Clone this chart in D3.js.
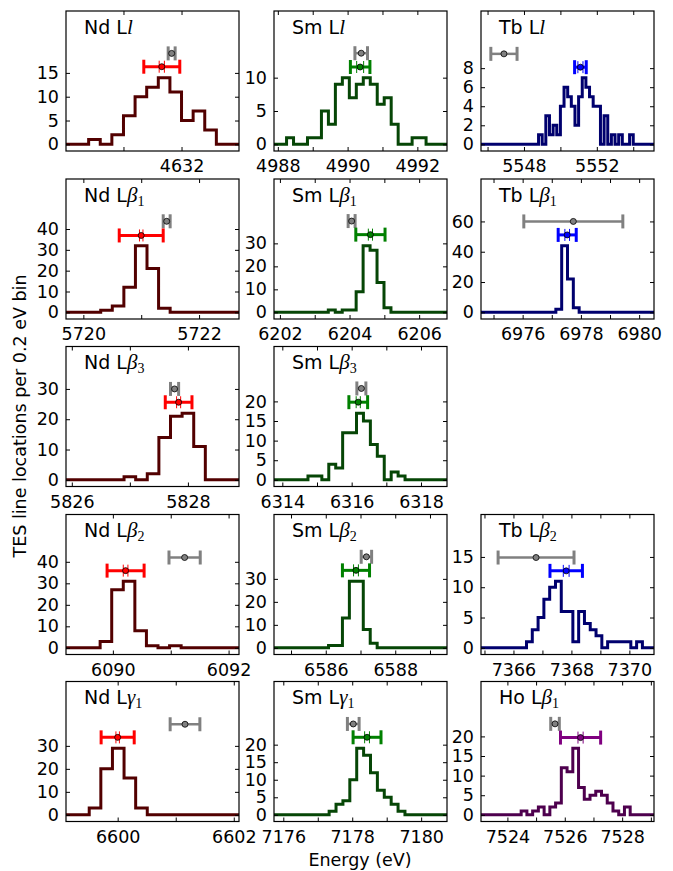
<!DOCTYPE html>
<html><head><meta charset="utf-8">
<script src="https://cdnjs.cloudflare.com/ajax/libs/d3/7.8.5/d3.min.js"></script>
<style>body{margin:0;background:#fff}</style>
</head><body>
<script>
// ---------------- data ----------------
const elements = ["Nd","Sm","Tb","Nd","Sm","Tb","Nd","Sm","Nd","Sm","Tb","Nd","Sm","Ho"];
const lineSym  = ["l","l","l","β","β","β","β","β","β","β","β","γ","γ","β"];
const lineSub  = ["","","","1","1","1","3","3","2","2","2","1","1","1"];

const xLo = [4630.01, 4987.89, 5545.64, 5719.70, 6201.83, 6974.57, 5825.90, 6313.76, 6089.19, 6584.51, 7364.88, 6599.11, 7175.73, 7523.08];
const xHi = [4632.99, 4992.85, 5555.14, 5722.69, 6206.80, 6980.51, 5828.88, 6318.75, 6092.18, 6589.49, 7370.85, 6602.09, 7180.75, 7529.11];
const xTickStep  = [1,1,2,1,1,1,1,1,1,1,1,1,1,1];
const xLabelStep = [2,2,4,2,2,2,2,2,2,2,2,2,2,2];

const binWidth = 0.2;
const binStart = [4630.4, 4988.25, 5548.8, 5720.3, 6203.39, 6977.14, 5826.9, 6314.74, 6089.78, 6586.08, 7366.45, 6599.51, 7177.33, 7524.48];

const countsNdLl  = [1,0,2,6,10,12,14,11,5,7,3];
const countsSmLl  = [1,0,0,1,1,5,3,9,10,7,9,10,9,6,7,3,0,0,1,1];
const countsTbLl  = [1,0,3,1,2,1,4,6,5,4,2,5,7,6,5,4,4,0,3,0,1,0,1,0,0,1];
const countsNdLb1 = [1,3,12,32,21,2];
const countsSmLb1 = [1,0,1,1,9,29,27,13,2];
const countsTbLb1 = [2,44,22,3];
const countsNdLb3 = [1,0,2,14,21,22,11];
const countsSmLb3 = [1,1,0,4,3,12,12,17,15,9,6,0,2,1];
const countsNdLb2 = [3,27,31,8,1,0,1];
const countsSmLb2 = [1,1,13,29,29,8,2];
const countsTbLb2 = [1,3,5,8,10,11,6,6,1,6,4,3,2,0,1,1,1,1,0,1];
const countsNdLg1 = [3,20,29,16,3];
const countsSmLg1 = [1,3,4,10,19,17,12,7,5,3,1];
const countsHoLb1 = [1,0,1,2,0,2,3,12,11,17,7,4,5,6,5,3,1,0,2,0];

const yTicks = [
  [0,5,10,15],[0,5,10],[0,2,4,6,8],
  [0,10,20,30,40],[0,10,20,30],[0,20,40,60],
  [0,10,20,30],[0,5,10,15,20],
  [0,10,20,30,40],[0,10,20,30],[0,5,10,15],
  [0,10,20,30],[0,5,10,15,20],[0,5,10,15,20]
];

// measured (TES) line positions: center, total error, statistical error, plotted height
const fitCenter  = [4631.66, 4990.36, 5551.10, 5721.00, 6204.60, 6977.53, 5827.84, 6316.19, 6090.22, 6586.87, 7367.82, 6600.00, 7178.43, 7526.55];
const fitTotErr  = [0.31, 0.28, 0.32, 0.38, 0.42, 0.31, 0.23, 0.27, 0.32, 0.39, 0.56, 0.285, 0.405, 0.70];
const fitStatErr = [0.045, 0.10, 0.14, 0.03, 0.06, 0.08, 0.035, 0.06, 0.04, 0.07, 0.10, 0.03, 0.07, 0.09];
const fitY       = [16.3, 11.6, 8.1, 36.9, 33.8, 51.1, 25.6, 19.8, 35.9, 33.7, 12.7, 33.7, 22.1, 19.7];
// reference (literature) line positions
const refCenter = [4631.83, 4990.39, 5546.90, 5721.44, 6204.06, 6977.74, 5827.77, 6316.28, 6091.24, 6587.17, 7366.78, 6601.16, 7178.03, 7525.66];
const refErr    = [0.06, 0.18, 0.72, 0.06, 0.10, 1.70, 0.07, 0.13, 0.27, 0.15, 1.31, 0.256, 0.17, 0.15];
const refY      = [19.1, 13.67, 9.5, 43.7, 39.7, 60, 30, 23.3, 42, 39.6, 14.9, 39.4, 25.9, 23.2];

// ---------------- styling / layout ----------------
const histColor = {Nd:"#520000", Sm:"#064606", Tb:"#00006e", Ho:"#4e004e"};
const barColor  = {Nd:"#ff0000", Sm:"#008000", Tb:"#0000ff", Ho:"#800080"};
const refColor = "#808080";

const W = 673, H = 871;
const colX = [66, 274, 481];
const rowY = [11, 179, 346.5, 514.5, 681.5];
const PW = 173, PH = 140;
const gridPos = [[0,0],[0,1],[0,2],[1,0],[1,1],[1,2],[2,0],[2,1],[3,0],[3,1],[3,2],[4,0],[4,1],[4,2]];
const FS = 17.5;

const allCounts = [countsNdLl,countsSmLl,countsTbLl,countsNdLb1,countsSmLb1,countsTbLb1,
  countsNdLb3,countsSmLb3,countsNdLb2,countsSmLb2,countsTbLb2,countsNdLg1,countsSmLg1,countsHoLb1];

const svg = d3.select("body").append("svg")
  .attr("width", W).attr("height", H)
  .style("font-family", "'DejaVu Sans', sans-serif");

allCounts.forEach((counts, i) => {
  const [r, c] = gridPos[i];
  const g = svg.append("g").attr("transform", `translate(${colX[c]},${rowY[r]})`);
  const ymax = d3.max(counts);
  const x = d3.scaleLinear().domain([xLo[i], xHi[i]]).range([0, PW]);
  const y = d3.scaleLinear().domain([-0.1 * ymax, 2 * ymax]).range([PH, 0]);
  const el = elements[i];

  const clipId = "clip" + i;
  g.append("clipPath").attr("id", clipId).append("rect").attr("width", PW).attr("height", PH);

  // histogram step line
  const pts = [[xLo[i], 0], [binStart[i], 0]];
  counts.forEach((v, k) => {
    const a = binStart[i] + k * binWidth;
    pts.push([a, v], [a + binWidth, v]);
  });
  const end = binStart[i] + counts.length * binWidth;
  pts.push([end, 0], [xHi[i], 0]);
  g.append("path")
    .attr("clip-path", `url(#${clipId})`)
    .attr("d", d3.line().x(d => x(d[0])).y(d => y(d[1]))(pts))
    .attr("fill", "none").attr("stroke", histColor[el])
    .attr("stroke-width", 3).attr("stroke-linejoin", "miter");

  // error bars
  function errbar(cx, err, yy, color, lw, capw, caph) {
    const eb = g.append("g");
    eb.append("line").attr("x1", x(cx - err)).attr("x2", x(cx + err))
      .attr("y1", y(yy)).attr("y2", y(yy)).attr("stroke", color).attr("stroke-width", lw);
    [cx - err, cx + err].forEach(v => {
      eb.append("line").attr("x1", x(v)).attr("x2", x(v))
        .attr("y1", y(yy) - caph).attr("y2", y(yy) + caph)
        .attr("stroke", color).attr("stroke-width", capw);
    });
    return eb;
  }
  errbar(refCenter[i], refErr[i], refY[i], refColor, 2.5, 3, 7);
  g.append("circle").attr("cx", x(refCenter[i])).attr("cy", y(refY[i])).attr("r", 3)
    .attr("fill", refColor).attr("stroke", "#000").attr("stroke-width", 0.8);

  const bc = barColor[el];
  errbar(fitCenter[i], fitTotErr[i], fitY[i], bc, 3, 3, 7);
  errbar(fitCenter[i], fitStatErr[i], fitY[i], bc, 1, 1, 6);
  g.append("circle").attr("cx", x(fitCenter[i])).attr("cy", y(fitY[i])).attr("r", 3)
    .attr("fill", bc).attr("stroke", "#000").attr("stroke-width", 0.8);

  // axes
  const xt = d3.range(Math.ceil(xLo[i] / xTickStep[i]) * xTickStep[i], xHi[i], xTickStep[i]);
  const fmt = v => (Math.round(v) % xLabelStep[i] === 0 ? d3.format("d")(v) : "");
  const axB = g.append("g").attr("transform", `translate(0,${PH})`)
    .call(d3.axisBottom(x).tickValues(xt).tickSize(-4).tickPadding(8.6).tickFormat(fmt));
  const axT = g.append("g").call(d3.axisTop(x).tickValues(xt).tickSize(-4).tickFormat(""));
  const axL = g.append("g").call(d3.axisLeft(y).tickValues(yTicks[i]).tickSize(-4).tickPadding(7).tickFormat(d3.format("d")));
  const axR = g.append("g").attr("transform", `translate(${PW},0)`)
    .call(d3.axisRight(y).tickValues(yTicks[i]).tickSize(-4).tickFormat(""));
  [axB, axT, axL, axR].forEach(a => {
    a.select(".domain").remove();
    a.selectAll("line").attr("stroke", "#000").attr("stroke-width", 1);
    a.selectAll("text").attr("font-size", FS).attr("fill", "#000")
      .attr("font-family", "'DejaVu Sans', sans-serif");
    a.selectAll("text").filter(function () { return this.textContent === ""; }).remove();
  });

  // frame
  g.append("rect").attr("width", PW).attr("height", PH)
    .attr("fill", "none").attr("stroke", "#000").attr("stroke-width", 1.2);

  // title
  const t = g.append("text").attr("x", 18).attr("y", 22.5).attr("font-size", 19).attr("fill", "#000");
  t.append("tspan").text(el + " L");
  t.append("tspan").attr("font-family", "'Liberation Serif', serif").attr("font-style", "italic")
    .attr("font-size", 21).text(lineSym[i]);
  if (lineSub[i]) {
    t.append("tspan").attr("font-family", "'Liberation Serif', serif").attr("font-size", 14)
      .attr("dy", 4).text(lineSub[i]);
  }
});

// axis titles
svg.append("text").attr("transform", "translate(25.5,416) rotate(-90)")
  .attr("text-anchor", "middle").attr("font-size", FS).text("TES line locations per 0.2 eV bin");
svg.append("text").attr("x", 360).attr("y", 866)
  .attr("text-anchor", "middle").attr("font-size", FS).text("Energy (eV)");
</script>
</body></html>
